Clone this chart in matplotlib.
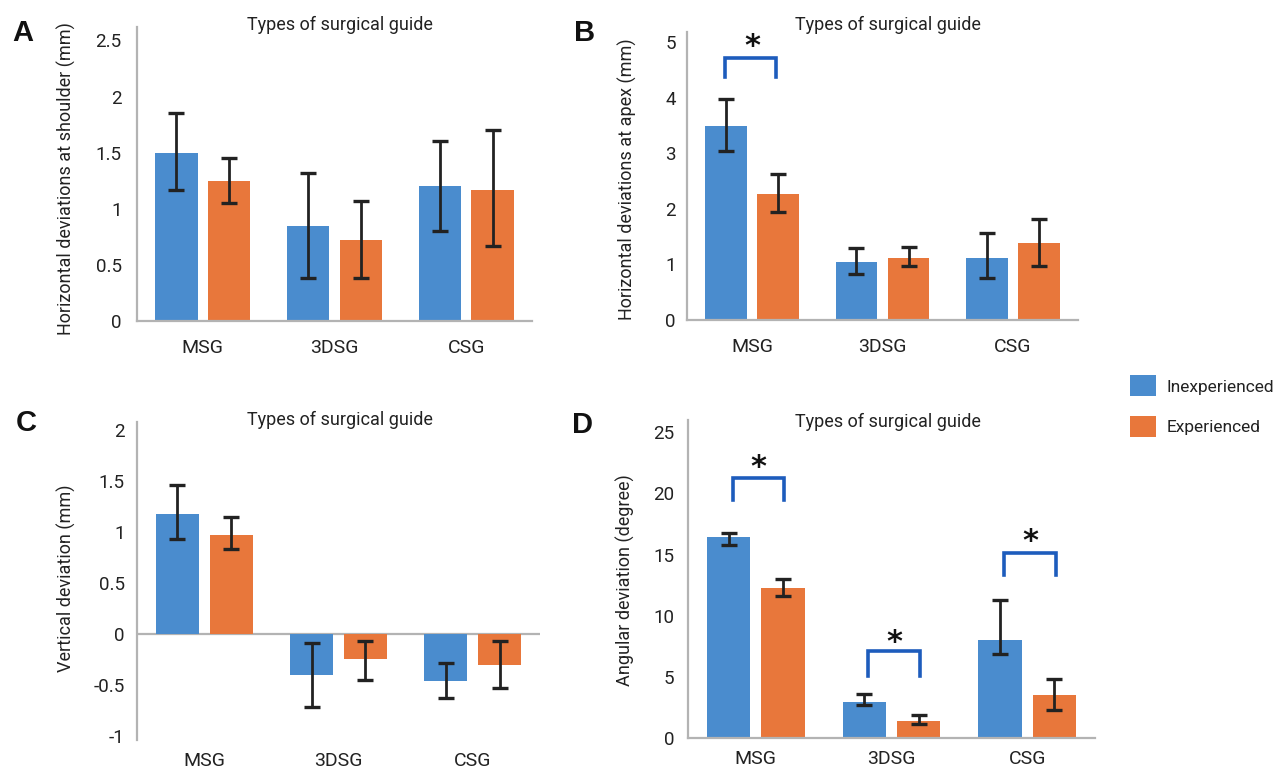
import matplotlib
matplotlib.use("Agg")
import matplotlib.pyplot as plt
from matplotlib.patches import Patch
from matplotlib.ticker import FuncFormatter
import numpy as np

plt.rcParams['font.family'] = ['Roboto', 'DejaVu Sans']

# ---------------- data ----------------
categories = ['MSG', '3DSG', 'CSG']
series_names = ['Inexperienced', 'Experienced']

A_inexp = [1.50, 0.85, 1.20]
A_inexp_lo = [1.17, 0.38, 0.80]
A_inexp_hi = [1.85, 1.32, 1.60]
A_exp = [1.25, 0.72, 1.17]
A_exp_lo = [1.05, 0.38, 0.67]
A_exp_hi = [1.45, 1.07, 1.70]

B_inexp = [3.49, 1.04, 1.12]
B_inexp_lo = [3.04, 0.83, 0.76]
B_inexp_hi = [3.97, 1.29, 1.56]
B_exp = [2.27, 1.12, 1.38]
B_exp_lo = [1.94, 0.97, 0.97]
B_exp_hi = [2.63, 1.31, 1.82]

C_inexp = [1.18, -0.40, -0.46]
C_inexp_lo = [0.93, -0.72, -0.63]
C_inexp_hi = [1.46, -0.09, -0.28]
C_exp = [0.97, -0.25, -0.30]
C_exp_lo = [0.83, -0.45, -0.53]
C_exp_hi = [1.15, -0.07, -0.07]

D_inexp = [16.4, 2.94, 8.04]
D_inexp_lo = [15.8, 2.67, 6.87]
D_inexp_hi = [16.8, 3.60, 11.25]
D_exp = [12.26, 1.36, 3.54]
D_exp_lo = [11.58, 1.14, 2.32]
D_exp_hi = [13.0, 1.85, 4.82]

# significance brackets (category index, bracket top, leg bottom, star level)
B_sig_cat = [0]
B_sig_top = [4.71]
B_sig_leg = [4.37]
B_sig_star = [5.07]

D_sig_cat = [0, 1, 2]
D_sig_top = [21.25, 7.14, 15.1]
D_sig_leg = [19.5, 5.1, 13.35]
D_sig_star = [22.75, 8.45, 16.7]

A_ticks = [0, 0.5, 1, 1.5, 2, 2.5]
B_ticks = [0, 1, 2, 3, 4, 5]
C_ticks = [-1, -0.5, 0, 0.5, 1, 1.5, 2]
D_ticks = [0, 5, 10, 15, 20, 25]

# ---------------- style ----------------
W, H = 1283, 769
BLUE = '#4a8cce'
ORANGE = '#e8773b'
SPINE = '#b3b3b3'
ERR = '#222222'
BRACKET = '#1d5cbc'
TEXT = '#222222'

fig = plt.figure(figsize=(W / 100, H / 100), dpi=100)


def px_axes(left, top, right, bottom):
    return fig.add_axes([left / W, 1 - bottom / H, (right - left) / W, (bottom - top) / H])


def draw_panel(ax, inexp, ilo, ihi, exp, elo, ehi, ylim, ticks, ypad, xpad):
    x = np.arange(len(categories))
    w = 0.32
    off = 0.2
    inexp = np.array(inexp); exp = np.array(exp)
    ierr = [inexp - np.array(ilo), np.array(ihi) - inexp]
    eerr = [exp - np.array(elo), np.array(ehi) - exp]
    ax.bar(x - off, inexp, w, color=BLUE, zorder=2)
    ax.bar(x + off, exp, w, color=ORANGE, zorder=2)
    ax.errorbar(x - off, inexp, yerr=ierr, fmt='none', ecolor=ERR, elinewidth=2,
                capsize=5.5, capthick=2.4, zorder=3)
    ax.errorbar(x + off, exp, yerr=eerr, fmt='none', ecolor=ERR, elinewidth=2,
                capsize=5.5, capthick=2.4, zorder=3)
    ax.set_xlim(-0.5, len(categories) - 0.5)
    ax.set_ylim(*ylim)
    ax.set_yticks(ticks)
    ax.yaxis.set_major_formatter(FuncFormatter(lambda v, p: '%g' % v))
    ax.set_xticks(x)
    ax.set_xticklabels(categories)
    ax.tick_params(axis='both', length=0, colors=TEXT)
    ax.tick_params(axis='y', pad=ypad, labelsize=13.5)
    ax.tick_params(axis='x', pad=xpad, labelsize=14)
    for s in ['top', 'right']:
        ax.spines[s].set_visible(False)
    ax.spines['left'].set_color(SPINE)
    ax.spines['left'].set_linewidth(1.6)
    ax.spines['bottom'].set_color(SPINE)
    ax.spines['bottom'].set_linewidth(1.6)
    ax.patch.set_alpha(0)


def draw_brackets(ax, cats, tops, legs, stars, xl, xr, sx):
    for c, t, l, s in zip(cats, tops, legs, stars):
        ax.plot([c + xl, c + xl, c + xr, c + xr], [l, t, t, l], color=BRACKET,
                lw=2.6, solid_joinstyle='miter', zorder=4)
        ax.annotate('*', xy=(c + sx, s), xytext=(0, -12), textcoords='offset points',
                    ha='center', va='baseline', fontsize=22, fontweight='bold',
                    family='DejaVu Sans', color='#111111')


axA = px_axes(137, 27, 532, 321)
draw_panel(axA, A_inexp, A_inexp_lo, A_inexp_hi, A_exp, A_exp_lo, A_exp_hi,
           (0, 2.62), A_ticks, ypad=11, xpad=13)

axB = px_axes(687, 32, 1078, 320)
draw_panel(axB, B_inexp, B_inexp_lo, B_inexp_hi, B_exp, B_exp_lo, B_exp_hi,
           (0, 5.18), B_ticks, ypad=8, xpad=13)
draw_brackets(axB, B_sig_cat, B_sig_top, B_sig_leg, B_sig_star, -0.21, 0.18, 0.0)

axC = px_axes(137, 422, 540, 740)
draw_panel(axC, C_inexp, C_inexp_lo, C_inexp_hi, C_exp, C_exp_lo, C_exp_hi,
           (-1.04, 2.08), C_ticks, ypad=9, xpad=9)
axC.spines['bottom'].set_visible(False)
axC.axhline(0, color=SPINE, lw=1.6, zorder=1)

axD = px_axes(688, 420, 1095, 738)
draw_panel(axD, D_inexp, D_inexp_lo, D_inexp_hi, D_exp, D_exp_lo, D_exp_hi,
           (0, 26.0), D_ticks, ypad=10, xpad=9)
draw_brackets(axD, D_sig_cat, D_sig_top, D_sig_leg, D_sig_star, -0.17, 0.21, 0.02)

# titles
for (cx, cy) in [(340, 25), (888, 25), (340, 420), (888, 422)]:
    fig.text(cx / W, 1 - cy / H, 'Types of surgical guide', ha='center', va='center',
             fontsize=13, color=TEXT)

# y labels
ylabels = [('Horizontal deviations at shoulder (mm)', 66, 179),
           ('Horizontal deviations at apex (mm)', 627, 179),
           ('Vertical deviation (mm)', 66, 578),
           ('Angular deviation (degree)', 625, 580)]
for txt, cx, cy in ylabels:
    fig.text(cx / W, 1 - cy / H, txt, rotation=90, ha='center', va='center',
             fontsize=13, color=TEXT)

# panel letters
for letter, cx, cy in [('A', 23, 33), ('B', 585, 33), ('C', 26, 423), ('D', 583, 425)]:
    fig.text(cx / W, 1 - cy / H, letter, ha='center', va='center', fontsize=21,
             fontweight='bold', family='Liberation Sans', color='#111111')

# legend
handles = [Patch(facecolor=BLUE, edgecolor='none'), Patch(facecolor=ORANGE, edgecolor='none')]
fig.legend(handles, series_names, loc='center left',
           bbox_to_anchor=(1130 / W, 1 - 406 / H), frameon=False, fontsize=12.5,
           handlelength=1.5, handleheight=1.5, handletextpad=0.6, labelspacing=1.1,
           borderpad=0, borderaxespad=0, labelcolor=TEXT)

fig.savefig('out.png', dpi=100)
